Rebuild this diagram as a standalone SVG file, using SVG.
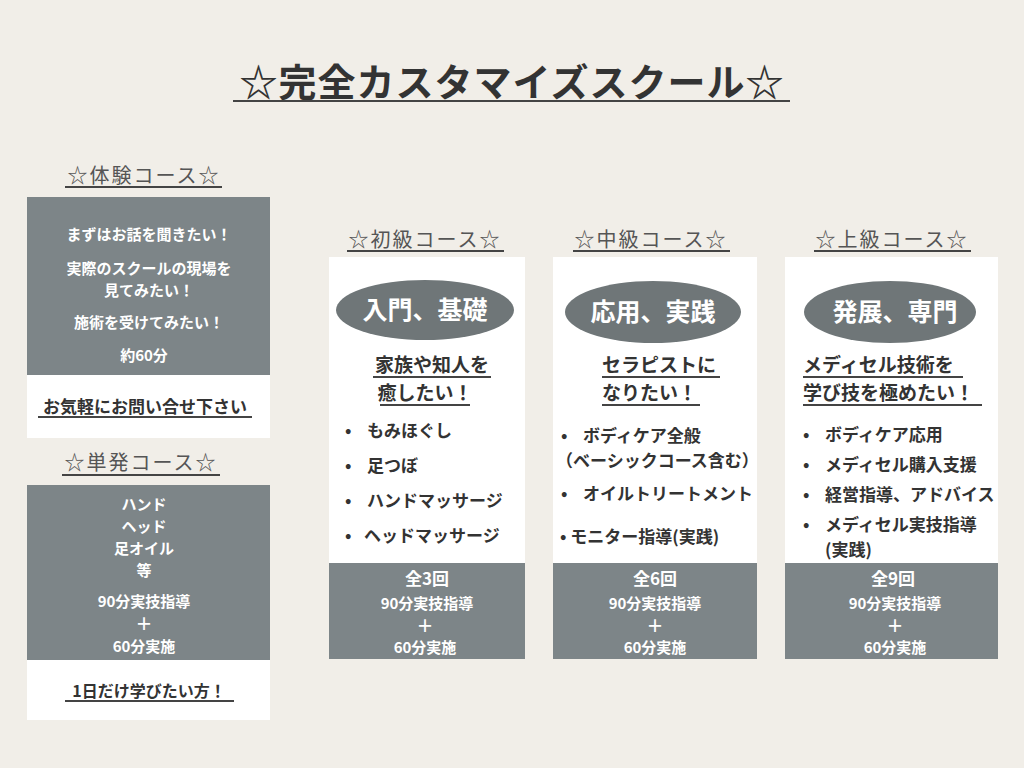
<svg xmlns="http://www.w3.org/2000/svg" width="1024" height="768" viewBox="0 0 1024 768">
<style>
text{font-family:"Noto Sans CJK JP","Noto Sans",sans-serif;font-weight:bold}
.h{font-size:20px;fill:#555;font-weight:normal;text-anchor:middle;letter-spacing:2px}
.g{fill:#7d8588}
.w{fill:#fff}
.wt{fill:#fff;font-size:15px;text-anchor:middle}
.wt2{fill:#fff;font-size:17px;text-anchor:middle}
.el{fill:#6f7678}
.et{fill:#fff;font-size:25px;text-anchor:middle}
.sub{fill:#333;font-size:19px}
.b{fill:#333;font-size:17px}
.ul{stroke:#444;stroke-width:2}
</style>
<rect width="1024" height="768" fill="#f1eee8"/>
<text x="512" y="96" font-size="38" text-anchor="middle" fill="#333" letter-spacing="1">☆完全カスタマイズスクール☆</text>
<line class="ul" x1="233" y1="101" x2="790" y2="101" stroke-width="3"/>
<g id="taiken">
<text class="h" x="144" y="183">☆体験コース☆</text><line class="ul" x1="65" y1="187" x2="222" y2="187"/>
<rect class="g" x="27" y="197" width="243" height="178"/><rect class="w" x="27" y="375" width="243" height="63"/>
<text class="wt" x="149" y="240">まずはお話を聞きたい！</text>
<text class="wt" x="149" y="274">実際のスクールの現場を</text>
<text class="wt" x="149" y="296">見てみたい！</text>
<text class="wt" x="149" y="328">施術を受けてみたい！</text>
<text class="wt" x="144" y="361">約60分</text>
<text x="145" y="413" font-size="17" text-anchor="middle" fill="#333">お気軽にお問い合せ下さい</text>
<line class="ul" x1="38" y1="417" x2="252" y2="417" stroke-width="1.5"/>
</g>
<g id="tanpatsu">
<text class="h" x="141" y="470">☆単発コース☆</text><line class="ul" x1="62" y1="475" x2="220" y2="475"/>
<rect class="g" x="27" y="485" width="243" height="175"/><rect class="w" x="27" y="660" width="243" height="60"/>
<text class="wt" x="144" y="510">ハンド</text><text class="wt" x="144" y="532">ヘッド</text>
<text class="wt" x="144" y="554">足オイル</text><text class="wt" x="144" y="576">等</text>
<text class="wt" x="144" y="607">90分実技指導</text><text class="wt2" x="144" y="630" font-size="22">＋</text>
<text class="wt" x="144" y="652">60分実施</text>
<text x="149" y="697" font-size="16" text-anchor="middle" fill="#333">1日だけ学びたい方！</text>
<line class="ul" x1="65" y1="701" x2="234" y2="701" stroke-width="1.5"/>
</g>
<g id="shokyu">
<text class="h" x="425" y="247">☆初級コース☆</text><line class="ul" x1="347" y1="251" x2="504" y2="251"/>
<rect class="w" x="329" y="257" width="196" height="306"/><rect class="g" x="329" y="563" width="196" height="96"/>
<ellipse class="el" cx="425" cy="310" rx="89" ry="30"/><text class="et" x="425" y="319">入門、基礎</text>
<text class="sub" x="432" y="372" text-anchor="middle">家族や知人を</text><line class="ul" x1="373" y1="377" x2="491" y2="377" stroke-width="1.5"/>
<text class="sub" x="425" y="400" text-anchor="middle">癒したい！</text><line class="ul" x1="380" y1="405" x2="470" y2="405" stroke-width="1.5"/>
<text class="b" x="345" y="437">•</text><text class="b" x="367" y="437">もみほぐし</text>
<text class="b" x="345" y="472">•</text><text class="b" x="367" y="472">足つぼ</text>
<text class="b" x="345" y="507">•</text><text class="b" x="367" y="507">ハンドマッサージ</text>
<text class="b" x="345" y="542">•</text><text class="b" x="364" y="542">ヘッドマッサージ</text>
<text class="wt2" x="427" y="585">全3回</text><text class="wt" x="427" y="609">90分実技指導</text>
<text class="wt2" x="425" y="632" font-size="22">＋</text><text class="wt" x="425" y="653">60分実施</text>
</g>
<g id="chukyu">
<text class="h" x="651" y="247">☆中級コース☆</text><line class="ul" x1="573" y1="251" x2="730" y2="251"/>
<rect class="w" x="553" y="257" width="204" height="306"/><rect class="g" x="553" y="563" width="204" height="96"/>
<ellipse class="el" cx="653" cy="312" rx="88" ry="31"/><text class="et" x="653" y="321">応用、実践</text>
<text class="sub" x="602" y="372">セラピストに</text><line class="ul" x1="602" y1="377" x2="720" y2="377" stroke-width="1.5"/>
<text class="sub" x="602" y="400">なりたい！</text><line class="ul" x1="602" y1="405" x2="700" y2="405" stroke-width="1.5"/>
<text class="b" x="561" y="442">•</text><text class="b" x="583" y="442">ボディケア全般</text>
<text class="b" x="556" y="467">（ベーシックコース含む）</text>
<text class="b" x="561" y="500">•</text><text class="b" x="583" y="500">オイルトリートメント</text>
<text class="b" x="560" y="543" fill="#111">• モニター指導(実践)</text>
<text class="wt2" x="655" y="585">全6回</text><text class="wt" x="655" y="609">90分実技指導</text>
<text class="wt2" x="655" y="632" font-size="22">＋</text><text class="wt" x="655" y="653">60分実施</text>
</g>
<g id="jokyu">
<text class="h" x="892" y="247">☆上級コース☆</text><line class="ul" x1="814" y1="251" x2="971" y2="251"/>
<rect class="w" x="785" y="257" width="213" height="306"/><rect class="g" x="785" y="563" width="213" height="96"/>
<ellipse class="el" cx="890" cy="312" rx="86" ry="31"/><text class="et" x="895" y="321">発展、専門</text>
<text class="sub" x="803" y="372">メディセル技術を</text><line class="ul" x1="803" y1="377" x2="963" y2="377" stroke-width="1.5"/>
<text class="sub" x="803" y="400">学び技を極めたい！</text><line class="ul" x1="803" y1="405" x2="982" y2="405" stroke-width="1.5"/>
<text class="b" x="803" y="441">•</text><text class="b" x="825" y="441">ボディケア応用</text>
<text class="b" x="803" y="471">•</text><text class="b" x="825" y="471">メディセル購入支援</text>
<text class="b" x="803" y="501">•</text><text class="b" x="825" y="501">経営指導、アドバイス</text>
<text class="b" x="803" y="531">•</text><text class="b" x="825" y="531">メディセル実技指導</text>
<text class="b" x="825" y="556">(実践)</text>
<text class="wt2" x="893" y="585">全9回</text><text class="wt" x="895" y="609">90分実技指導</text>
<text class="wt2" x="895" y="632" font-size="22">＋</text><text class="wt" x="895" y="653">60分実施</text>
</g>
</svg>
